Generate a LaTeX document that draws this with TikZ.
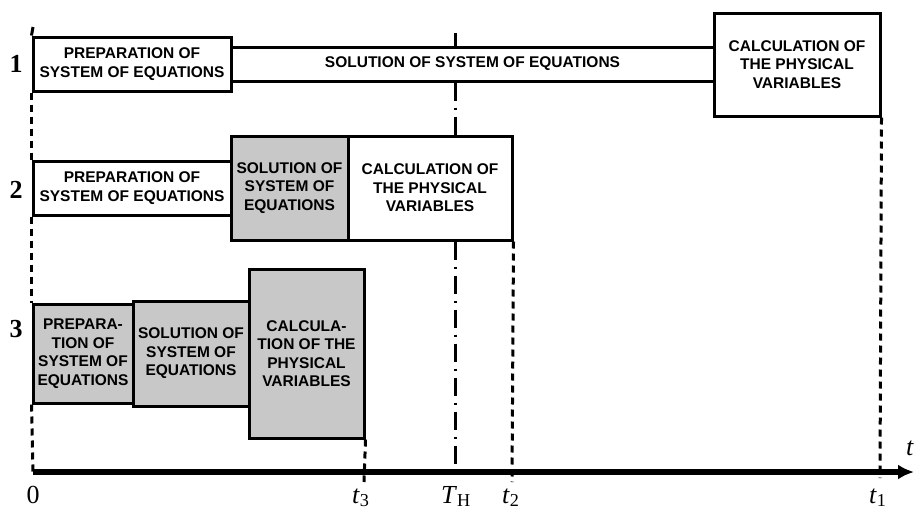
\documentclass[tikz,border=0pt]{standalone}
\usepackage{fontspec}
\setmainfont{Liberation Serif}
\setsansfont{Liberation Sans}
\usetikzlibrary{arrows.meta}
\definecolor{boxgray}{RGB}{200,200,200}
\begin{document}
\begin{tikzpicture}[x=1pt,y=-1pt,
  box/.style={draw, line width=3pt, fill=white, inner sep=0pt, align=center,
    font=\sffamily\bfseries\fontsize{15.5}{18.5}\selectfont},
  graybox/.style={box, fill=boxgray},
  vdash/.style={line width=3pt, dash pattern=on 7pt off 5pt},
  thline/.style={line width=3pt, dash pattern=on 18pt off 7pt on 2pt off 7pt},
  rowlab/.style={font=\bfseries\fontsize{26}{26}\selectfont, inner sep=0pt},
  axlab/.style={font=\fontsize{26}{26}\selectfont, anchor=base west, inner sep=0pt}]
\useasboundingbox (0,0) rectangle (915,506);
\clip (0,0) rectangle (915,506);

% row 1
\node[box, minimum width=198pt, minimum height=54pt] (p1) at (132,64) {PREPARATION OF\\SYSTEM OF EQUATIONS};
\node[box, minimum width=483pt, minimum height=34pt] (s1) at (472.5,64) {SOLUTION OF SYSTEM OF EQUATIONS};
\node[box, minimum width=166pt, minimum height=103pt] (c1) at (797,64.5) {CALCULATION OF\\THE PHYSICAL\\VARIABLES};
% row 2
\node[box, minimum width=198pt, minimum height=54pt] (p2) at (132,188) {PREPARATION OF\\SYSTEM OF EQUATIONS};
\node[graybox, minimum width=117pt, minimum height=104pt] (s2) at (289.5,188) {SOLUTION OF\\SYSTEM OF\\EQUATIONS};
\node[box, minimum width=164pt, minimum height=104pt] (c2) at (430,188) {CALCULATION OF\\THE PHYSICAL\\VARIABLES};
% row 3
\node[graybox, minimum width=100pt, minimum height=99pt] (p3) at (83,353.5) {PREPARA-\\TION OF\\SYSTEM OF\\EQUATIONS};
\node[graybox, minimum width=116pt, minimum height=105pt] (s3) at (191,353.5) {SOLUTION OF\\SYSTEM OF\\EQUATIONS};
\node[graybox, minimum width=115pt, minimum height=169pt] (c3) at (306.5,353.5) {CALCULA-\\TION OF THE\\PHYSICAL\\VARIABLES};

% row labels
\node[rowlab] (r1) at (16,64) {1};
\node[rowlab] (r2) at (16,190) {2};
\node[rowlab] (r3) at (16,329) {3};

% coordinates
\coordinate (o) at (33,472);
\coordinate (tend) at (914,472);
\coordinate (ltop) at (33,27);
\coordinate (thtop) at (455,33);
\coordinate (t1b) at (880,478);
\coordinate (t2b) at (512,482);
\coordinate (t3b) at (364,482);

% left vertical
\draw[line width=3pt] (ltop) -- (p1.north west);
\draw[vdash] (p1.south west) -- (p2.north west);
\draw[vdash] (p2.south west) -- (p3.north west);
\draw[vdash] (p3.south west) -- (o);

% T_H line
\draw[line width=3pt] (thtop) -- (thtop |- s1.north);
\draw[thline] (thtop |- s1.south) -- (thtop |- c2.north);
\draw[thline] (thtop |- c2.south) -- (thtop |- o);

% t lines
\draw[vdash] (c1.south east) -- (t1b);
\draw[vdash] (c2.south east) -- (t2b);
\draw[vdash] (c3.south east) -- (t3b);

% axis
\draw[line width=5.5pt, -{Latex[length=16pt,width=15pt]}] (o) -- (tend);

% axis labels
\node[font=\fontsize{26}{26}\selectfont, anchor=base, inner sep=0pt] (l0) at (33,503) {0};
\node[axlab] (l3) at (352,503) {\textit{t}\textsubscript{3}};
\node[axlab] (lh) at (441,503) {\textit{T}\textsubscript{H}};
\node[axlab] (l2) at (502,503) {\textit{t}\textsubscript{2}};
\node[axlab] (l1) at (869,503) {\textit{t}\textsubscript{1}};
\node[axlab] (lt) at (906,455) {\textit{t}};
\end{tikzpicture}
\end{document}
